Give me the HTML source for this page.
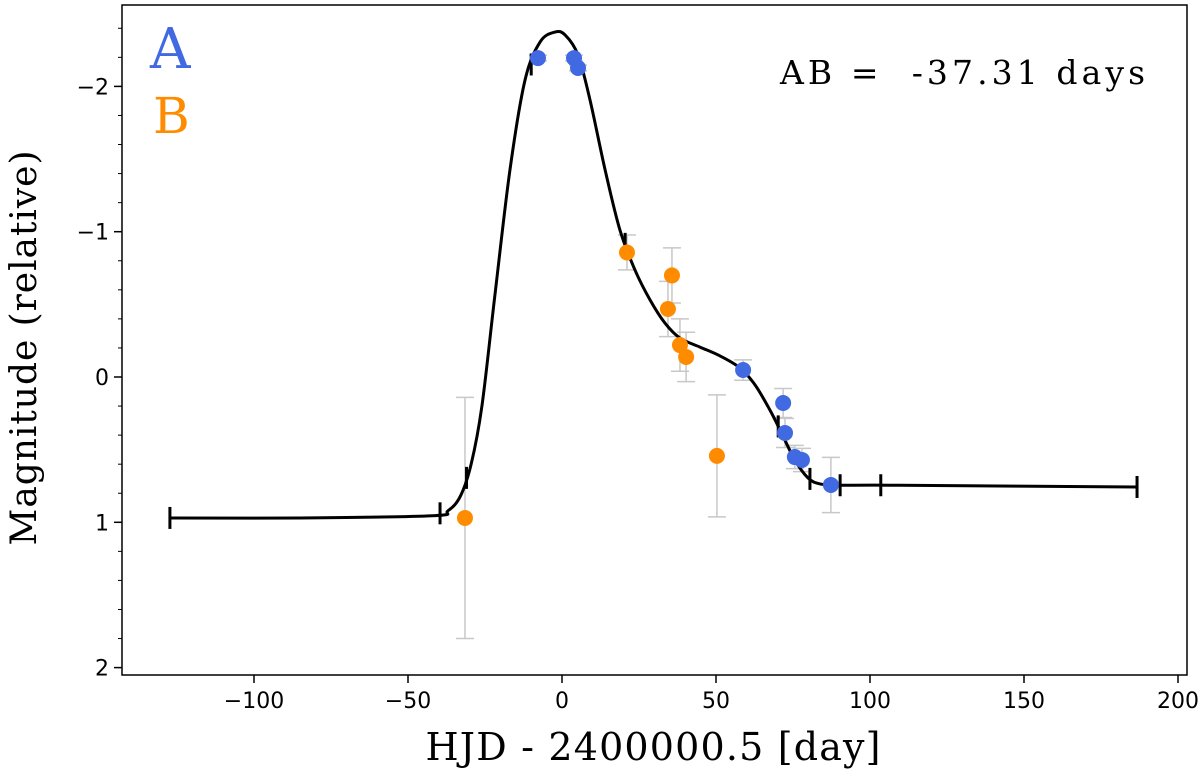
<!DOCTYPE html>
<html><head><meta charset="utf-8"><style>
body{margin:0;background:#fff}
svg text{font-family:"DejaVu Sans","Liberation Sans",sans-serif}
.serif{font-family:"DejaVu Serif","Liberation Serif",serif}
</style></head><body>
<svg id="chart" width="1200" height="775" viewBox="0 0 1200 775" xmlns="http://www.w3.org/2000/svg">
<g id="marks"></g>
<rect x="122" y="5" width="1065" height="670" fill="none" stroke="#000" stroke-width="1.5"/>
<g id="axes"></g>
<text class="serif" x="150" y="68" font-size="56" fill="#4169e1">A</text>
<text class="serif" x="153" y="133" font-size="50" fill="#ff8c00">B</text>
<text class="serif" x="780" y="84" font-size="33" textLength="365" fill="#000">AB =&#160; -37.31 days</text>
<text class="serif" x="653" y="760" font-size="38" textLength="455" text-anchor="middle">HJD - 2400000.5 [day]</text>
<text class="serif" transform="translate(36,348) rotate(-90)" font-size="36" textLength="395" text-anchor="middle">Magnitude (relative)</text>
</svg>
<script>
const blueX=[-7.8,3.9,5.2,58.8,71.8,72.4,75.6,77.9,87.3];
const blueY=[-2.195,-2.195,-2.127,-0.048,0.179,0.385,0.551,0.571,0.743];
const blueErr=[0.02,0.02,0.02,0.07,0.1,0.1,0.08,0.08,0.19];
const orangeX=[-31.5,21.1,35.7,34.4,38.3,40.3,50.3];
const orangeY=[0.97,-0.857,-0.699,-0.468,-0.220,-0.138,0.543];
const orangeErr=[0.83,0.12,0.19,0.19,0.18,0.17,0.42];
const curveX=[-127.3,-85.1,-42.0,-37.0,-33.0,-29.5,-26.0,-21.8,-16.9,-12.0,-7.1,-2.3,1.0,5.2,9.1,14.0,18.8,23.7,28.6,33.4,38.3,44.8,51.3,57.8,62.7,67.5,70.8,75.6,79.9,83.8,90.3,109.7,186.7];
const curveY=[0.970,0.970,0.955,0.920,0.820,0.600,0.200,-0.560,-1.425,-2.044,-2.306,-2.374,-2.354,-2.216,-1.906,-1.425,-1.012,-0.736,-0.530,-0.372,-0.268,-0.206,-0.145,-0.062,0.055,0.227,0.365,0.571,0.695,0.736,0.745,0.745,0.757];
const knotX=[-127.3,-39.6,-31.0,-10.0,20.5,70.2,80.5,90.3,103.5,186.7];
const xTicks=[-100,-50,0,50,100,150,200];
const yTicks=[-2,-1,0,1,2];
const NS='http://www.w3.org/2000/svg';
const sx=v=>562+v*3.08, sy=v=>377+v*145.3;
const marks=document.getElementById('marks'), axes=document.getElementById('axes');
function mk(tag,attrs,parent){const e=document.createElementNS(NS,tag);for(const k in attrs)e.setAttribute(k,attrs[k]);parent.appendChild(e);return e;}
function errs(xs,ys,es,name){for(let i=0;i<xs.length;i++){const x=sx(xs[i]),y1=sy(ys[i]-es[i]),y2=sy(ys[i]+es[i]);
const g=mk('path',{d:`M${x},${y1}V${y2}M${x-9},${y1}H${x+9}M${x-9},${y2}H${x+9}`,stroke:'#c8c8c8','stroke-width':1.5,fill:'none'},marks);

}}
errs(orangeX,orangeY,orangeErr,'b');errs(blueX,blueY,blueErr,'a');
let pts=curveX.map((x,i)=>[sx(x),sy(curveY[i])]);
let d=`M${pts[0][0]},${pts[0][1]}`;
for(let i=0;i<pts.length-1;i++){const p0=pts[Math.max(0,i-1)],p1=pts[i],p2=pts[i+1],p3=pts[Math.min(pts.length-1,i+2)];
d+=`C${p1[0]+(p2[0]-p0[0])/6},${p1[1]+(p2[1]-p0[1])/6} ${p2[0]-(p3[0]-p1[0])/6},${p2[1]-(p3[1]-p1[1])/6} ${p2[0]},${p2[1]}`;}
const c=mk('path',{d:d,stroke:'#000','stroke-width':3,fill:'none'},marks);


function interp(x){for(let i=0;i<curveX.length-1;i++){if(x<=curveX[i+1]){const t=(x-curveX[i])/(curveX[i+1]-curveX[i]);return curveY[i]+t*(curveY[i+1]-curveY[i]);}}return curveY[curveY.length-1];}
knotX.forEach(k=>{const x=sx(k),y=sy(interp(k));const l=mk('line',{x1:x,x2:x,y1:y-11,y2:y+11,stroke:'#000','stroke-width':3},marks);

});
function dots(xs,ys,col,name){xs.forEach((x,i)=>{const e=mk('circle',{cx:sx(x),cy:sy(ys[i]),r:8,fill:col},marks);

});}
dots(orangeX,orangeY,'#ff8c00','image-b-point');dots(blueX,blueY,'#4169e1','image-a-point');
xTicks.forEach(t=>{const x=sx(t);mk('line',{x1:x,x2:x,y1:675,y2:683,stroke:'#000','stroke-width':1.5},axes);
const tx=mk('text',{x:x,y:708,'font-size':22,'text-anchor':'middle'},axes);tx.textContent=(t<0?'\u2212'+(-t):t);

});
for(let m=-2.4;m<=2.01;m+=0.2){const y=sy(m);if(y<5||y>675)continue;mk('line',{x1:118,x2:122,y1:y,y2:y,stroke:'#000','stroke-width':1},axes);}
yTicks.forEach(t=>{const y=sy(t);mk('line',{x1:114,x2:122,y1:y,y2:y,stroke:'#000','stroke-width':1.5},axes);
const tx=mk('text',{x:109,y:y+8,'font-size':22,'text-anchor':'end'},axes);tx.textContent=(t<0?'\u2212'+(-t):t);

});
</script>
</body></html>
